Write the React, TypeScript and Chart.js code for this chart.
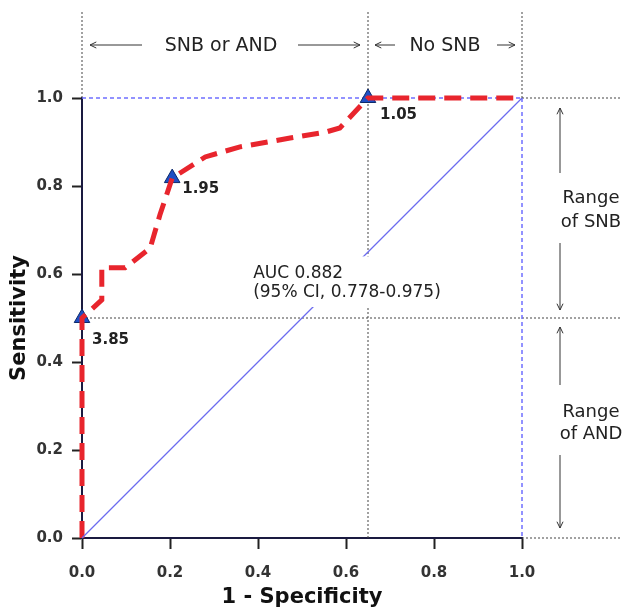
import React, { useEffect, useRef } from 'react';
import { Chart, registerables } from 'chart.js';

Chart.register(...registerables);

// ROC curve (1 - specificity, sensitivity)
const rocX = [0, 0, 0.045, 0.045, 0.098, 0.155, 0.177, 0.205, 0.28, 0.359, 0.473, 0.552, 0.586, 0.65, 1.0];
const rocY = [0, 0.5, 0.541, 0.614, 0.614, 0.659, 0.734, 0.818, 0.866, 0.889, 0.909, 0.922, 0.932, 1.0, 1.0];

// cut-off points
const cutX = [0, 0.205, 0.65];
const cutY = [0.5, 0.818, 1.0];
const cutLabels = ['3.85', '1.95', '1.05'];

// reference diagonal
const diagX = [0, 1];
const diagY = [0, 1];

const tickValues = [0, 0.2, 0.4, 0.6, 0.8, 1.0];
const aucLines = ['AUC 0.882', '(95% CI, 0.778-0.975)'];
const zoneLabels = ['SNB or AND', 'No SNB'];
const rangeLabels = [['Range', 'of SNB'], ['Range', 'of AND']];
const snbCut = 0.65;
const rangeSplit = 0.5;

const FONT = '"DejaVu Sans", Verdana, sans-serif';

function arrow(ctx: CanvasRenderingContext2D, x1: number, y1: number, x2: number, y2: number) {
  const a = Math.atan2(y2 - y1, x2 - x1);
  const h = 7;
  ctx.beginPath();
  ctx.moveTo(x1, y1);
  ctx.lineTo(x2, y2);
  ctx.moveTo(x2 - h * Math.cos(a - 0.45), y2 - h * Math.sin(a - 0.45));
  ctx.lineTo(x2, y2);
  ctx.lineTo(x2 - h * Math.cos(a + 0.45), y2 - h * Math.sin(a + 0.45));
  ctx.stroke();
}

const annotations = {
  id: 'annotations',
  beforeDatasetsDraw(chart: any) {
    const ctx = chart.ctx as CanvasRenderingContext2D;
    const px = (v: number) => chart.scales.x.getPixelForValue(v);
    const py = (v: number) => chart.scales.y.getPixelForValue(v);
    const W = chart.width;
    const topY = 12;
    const line = (x1: number, y1: number, x2: number, y2: number) => {
      ctx.beginPath();
      ctx.moveTo(x1, y1);
      ctx.lineTo(x2, y2);
      ctx.stroke();
    };
    ctx.save();
    // black dotted guides
    ctx.strokeStyle = '#444';
    ctx.lineWidth = 1;
    ctx.setLineDash([2, 2]);
    line(px(0), topY, px(0), py(1));
    line(px(snbCut), topY, px(snbCut), py(0));
    line(px(1), topY, px(1), py(1));
    line(px(1), py(1), W - 4, py(1));
    line(px(0), py(rangeSplit), W - 4, py(rangeSplit));
    line(px(1), py(0), W - 4, py(0));
    // blue dotted frame
    ctx.strokeStyle = '#6f6fff';
    ctx.lineWidth = 1.5;
    ctx.setLineDash([4, 3]);
    line(px(0), py(1), px(1), py(1));
    line(px(1), py(1), px(1), py(0));
    ctx.setLineDash([]);

    // top zone arrows
    ctx.strokeStyle = '#333';
    ctx.lineWidth = 1;
    const ay = py(1) - 53;
    arrow(ctx, px(0) + 60, ay, px(0) + 8, ay);
    arrow(ctx, px(snbCut) - 70, ay, px(snbCut) - 8, ay);
    arrow(ctx, px(snbCut) + 27, ay, px(snbCut) + 7, ay);
    arrow(ctx, px(1) - 25, ay, px(1) - 7, ay);
    ctx.fillStyle = '#222';
    ctx.font = `19px ${FONT}`;
    ctx.textAlign = 'center';
    ctx.textBaseline = 'middle';
    ctx.fillText(zoneLabels[0], (px(0) + px(snbCut)) / 2 - 4, ay + 1);
    ctx.fillText(zoneLabels[1], (px(snbCut) + px(1)) / 2, ay + 1);

    // right side range arrows
    const ax = px(1) + 38;
    const tx = px(1) + 69;
    ctx.font = `18px ${FONT}`;
    // SNB range
    const s0 = py(1);
    const s1 = py(rangeSplit);
    arrow(ctx, ax, s0 + 75, ax, s0 + 10);
    arrow(ctx, ax, s1 - 75, ax, s1 - 8);
    ctx.fillText(rangeLabels[0][0], tx, s0 + 100);
    ctx.fillText(rangeLabels[0][1], tx, s0 + 124);
    // AND range
    const a0 = py(rangeSplit);
    const a1 = py(0);
    arrow(ctx, ax, a0 + 67, ax, a0 + 9);
    arrow(ctx, ax, a1 - 83, ax, a1 - 10);
    ctx.fillText(rangeLabels[1][0], tx, a0 + 94);
    ctx.fillText(rangeLabels[1][1], tx, a0 + 116);
    ctx.restore();
  },
  afterDatasetsDraw(chart: any) {
    const ctx = chart.ctx as CanvasRenderingContext2D;
    const px = (v: number) => chart.scales.x.getPixelForValue(v);
    const py = (v: number) => chart.scales.y.getPixelForValue(v);
    ctx.save();
    // white box behind AUC text
    ctx.fillStyle = '#fff';
    ctx.fillRect(px(0.385), py(0.64), px(0.845) - px(0.385), py(0.525) - py(0.64));
    ctx.fillStyle = '#222';
    ctx.font = `17px ${FONT}`;
    ctx.textAlign = 'left';
    ctx.textBaseline = 'middle';
    ctx.fillText(aucLines[0], px(0.389), py(0.602));
    ctx.fillText(aucLines[1], px(0.389), py(0.558));
    // cut-off labels
    ctx.font = `bold 15px ${FONT}`;
    const dx = [10, 10, 12];
    const dy = [22, 11, 17];
    cutLabels.forEach((t, i) => {
      ctx.fillText(t, px(cutX[i]) + dx[i], py(cutY[i]) + dy[i]);
    });
    ctx.restore();
  },
};

export default function App() {
  const ref = useRef<HTMLCanvasElement>(null);
  useEffect(() => {
    if (!ref.current) return;
    const chart = new Chart(ref.current, {
      type: 'scatter',
      data: {
        datasets: [
          {
            label: 'Reference',
            data: diagX.map((x, i) => ({ x, y: diagY[i] })),
            showLine: true,
            borderColor: '#6b6bef',
            borderWidth: 1.3,
            pointRadius: 0,
            clip: false,
          } as any,
          {
            label: 'ROC',
            data: rocX.map((x, i) => ({ x, y: rocY[i] })),
            showLine: true,
            borderColor: '#e8252d',
            borderWidth: 5,
            borderDash: [17, 9],
            pointRadius: 0,
            clip: false,
          } as any,
          {
            label: 'Cut-off',
            data: cutX.map((x, i) => ({ x, y: cutY[i] })),
            showLine: false,
            pointStyle: 'triangle',
            pointRadius: 9,
            backgroundColor: '#1f4fc4',
            borderColor: '#0d2a6b',
            borderWidth: 1,
            clip: false,
          } as any,
        ],
      },
      options: {
        responsive: false,
        animation: false,
        devicePixelRatio: 1,
        layout: { padding: { top: 98, right: 104, left: 0, bottom: 0 } },
        plugins: { legend: { display: false }, tooltip: { enabled: false } },
        scales: {
          x: {
            type: 'linear',
            min: 0,
            max: 1,
            afterFit: (s: any) => { s.height = 70; },
            afterBuildTicks: (s: any) => { s.ticks = tickValues.map((v) => ({ value: v })); },
            ticks: {
              callback: (v: any) => Number(v).toFixed(1),
              color: '#333',
              font: { family: FONT, size: 15, weight: 'bold' },
              padding: 15,
              maxRotation: 0,
            },
            grid: { drawOnChartArea: false, drawTicks: true, tickLength: 11, tickColor: '#222', tickWidth: 2 },
            border: { display: true, color: '#1a1a40', width: 2 },
            title: {
              display: true,
              text: '1 - Specificity',
              color: '#111',
              font: { family: FONT, size: 21, weight: 'bold', lineHeight: 1.0 },
              padding: { top: 0, bottom: 0 },
            },
          },
          y: {
            type: 'linear',
            min: 0,
            max: 1,
            afterFit: (s: any) => { s.width = 82; },
            afterBuildTicks: (s: any) => { s.ticks = tickValues.map((v) => ({ value: v })); },
            ticks: {
              callback: (v: any) => Number(v).toFixed(1),
              color: '#333',
              font: { family: FONT, size: 15, weight: 'bold' },
              padding: 9,
            },
            grid: { drawOnChartArea: false, drawTicks: true, tickLength: 10, tickColor: '#222', tickWidth: 2 },
            border: { display: true, color: '#1a1a40', width: 2 },
            title: {
              display: true,
              text: 'Sensitivity',
              color: '#111',
              font: { family: FONT, size: 21, weight: 'bold' },
              padding: { top: 7, bottom: 0 },
            },
          },
        },
      },
      plugins: [annotations],
    });
    return () => chart.destroy();
  }, []);
  return (
    <canvas
      ref={ref}
      width={626}
      height={608}
      style={{ display: 'block', position: 'absolute', left: 0, top: 0 }}
    />
  );
}
